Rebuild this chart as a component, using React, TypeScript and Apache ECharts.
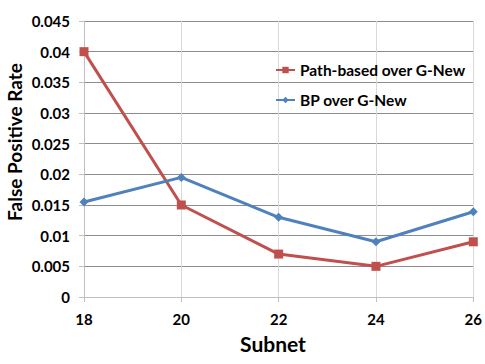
import React, { useEffect, useRef } from "react";
import * as echarts from "echarts";

const subnets = [18, 20, 22, 24, 26];
const pathBased = [0.04, 0.015, 0.007, 0.005, 0.009];
const bp = [0.0155, 0.0195, 0.013, 0.009, 0.0139];
const seriesNames = ["Path-based over G-New", "BP over G-New"];

const FONT = "Lato, 'Open Sans', sans-serif";

export default function App() {
  const ref = useRef<HTMLDivElement>(null);
  useEffect(() => {
    document.body.style.margin = "0";
    if (!ref.current) return;
    const chart = echarts.init(ref.current, undefined, { renderer: "svg" });
    chart.setOption({
      animation: false,
      backgroundColor: "#ffffff",
      grid: { left: 84, right: 9, top: 21, bottom: 67 },
      legend: {
        orient: "vertical",
        left: 275,
        top: 62,
        padding: 0,
        itemGap: 14,
        itemWidth: 19,
        itemHeight: 8,
        textStyle: { fontFamily: FONT, fontWeight: "bold", fontSize: 15.5, color: "#000" },
        data: seriesNames,
      },
      xAxis: {
        type: "value",
        min: 18,
        max: 26,
        interval: 2,
        axisLine: { lineStyle: { color: "#bfbfbf" } },
        axisTick: { show: true, length: 5, lineStyle: { color: "#bfbfbf" } },
        splitLine: { show: true, lineStyle: { color: "#d9d9d9" } },
        axisLabel: { fontFamily: FONT, fontWeight: "bold", fontSize: 15, color: "#000", margin: 14 },
      },
      yAxis: {
        type: "value",
        min: 0,
        max: 0.045,
        interval: 0.005,
        axisLine: { show: true, lineStyle: { color: "#bfbfbf" } },
        axisTick: { show: true, length: 5, lineStyle: { color: "#bfbfbf" } },
        splitLine: { show: true, lineStyle: { color: "#8c8c8c" } },
        axisLabel: {
          fontFamily: FONT,
          fontWeight: "bold",
          fontSize: 15,
          color: "#000",
          margin: 14,
          formatter: (v: number) => String(parseFloat(v.toFixed(4))),
        },
      },
      graphic: [
        {
          type: "text",
          x: 14,
          y: 142,
          rotation: Math.PI / 2,
          style: {
            text: "False Positive Rate",
            fontFamily: FONT,
            fontWeight: "bold",
            fontSize: 19,
            fill: "#000",
            align: "center",
            verticalAlign: "middle",
          },
        },
        {
          type: "text",
          x: 273,
          y: 343,
          style: {
            text: "Subnet",
            fontFamily: FONT,
            fontWeight: "bold",
            fontSize: 21,
            fill: "#000",
            align: "center",
            verticalAlign: "middle",
          },
        },
      ],
      series: [
        {
          name: seriesNames[0],
          type: "line",
          data: subnets.map((s, i) => [s, pathBased[i]]),
          symbol: "rect",
          symbolSize: 9,
          lineStyle: { color: "#C0504D", width: 3 },
          itemStyle: { color: "#C0504D" },
        },
        {
          name: seriesNames[1],
          type: "line",
          data: subnets.map((s, i) => [s, bp[i]]),
          symbol: "diamond",
          symbolSize: 9,
          lineStyle: { color: "#4F81BD", width: 3 },
          itemStyle: { color: "#4F81BD" },
        },
      ],
    });
    return () => chart.dispose();
  }, []);
  return <div ref={ref} style={{ width: 485, height: 364 }} />;
}
